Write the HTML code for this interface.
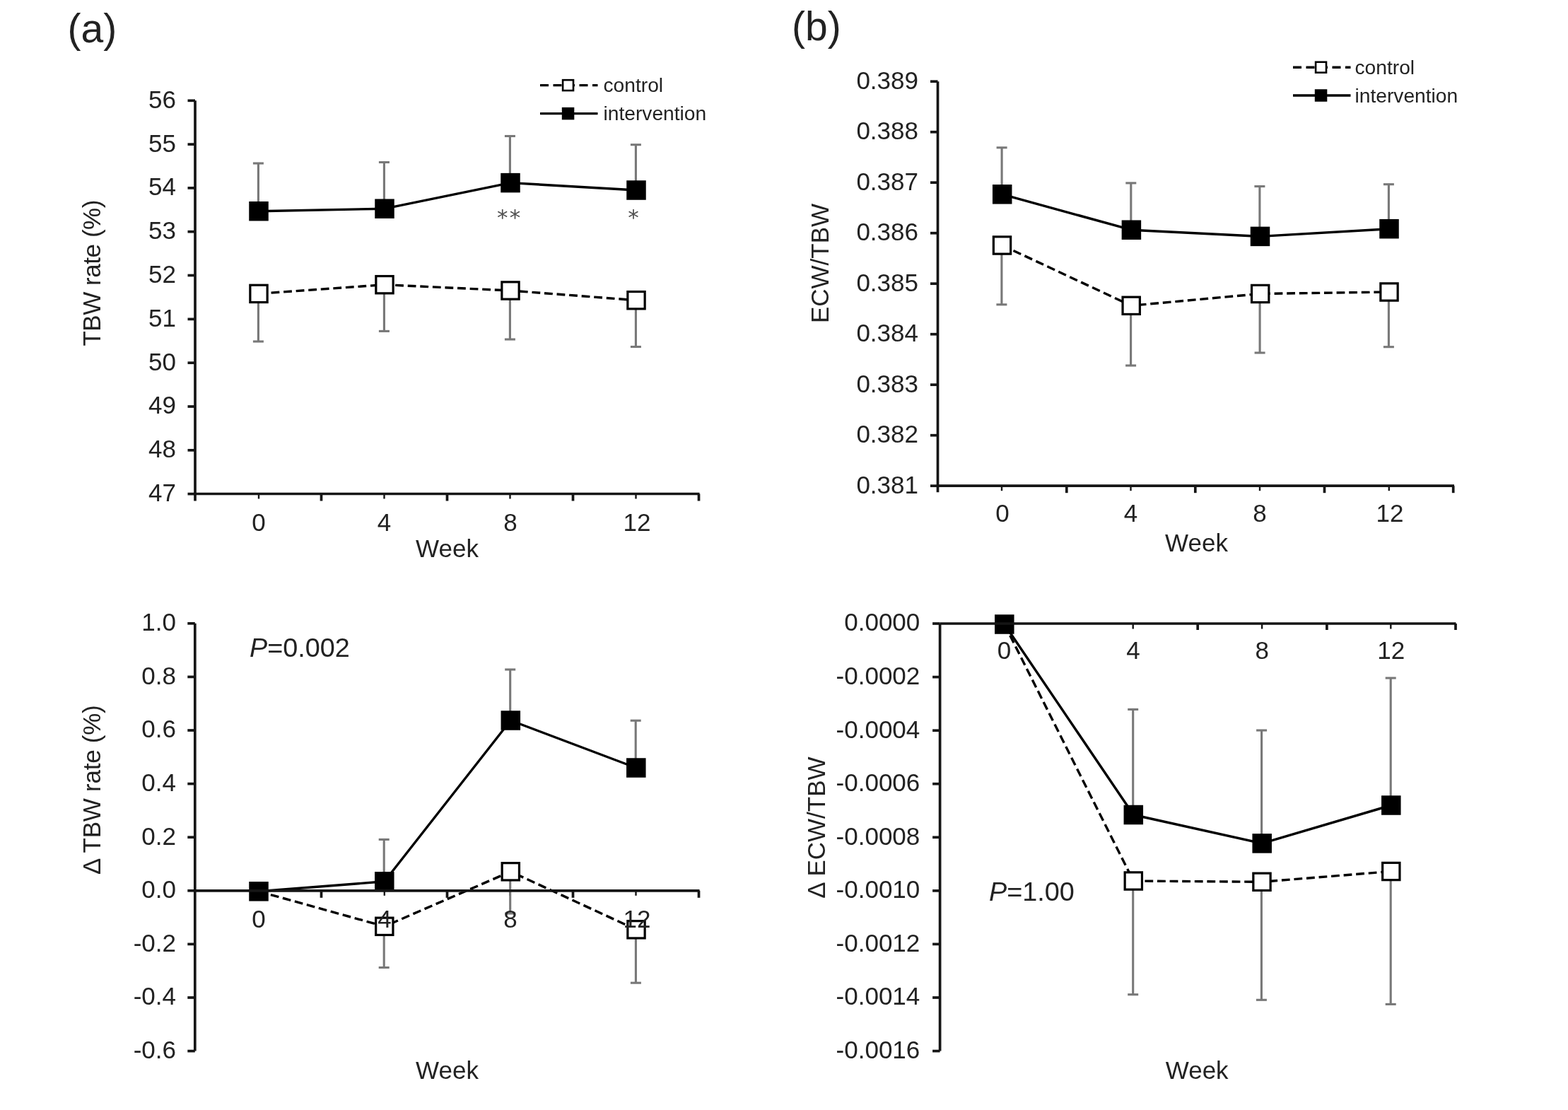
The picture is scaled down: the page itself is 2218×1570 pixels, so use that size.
<!DOCTYPE html>
<html><head><meta charset="utf-8"><title>TBW and ECW/TBW changes</title>
<style>
html,body{margin:0;padding:0;background:#fff;width:2218px;height:1570px;overflow:hidden}
svg{display:block}
text{font-family:"Liberation Sans",Arial,sans-serif}
</style></head><body>
<svg width="2218" height="1570" viewBox="0 0 2218 1570" fill="#222">
<rect width="2218" height="1570" fill="#fff"/>
<line x1="454.5" y1="698.5" x2="454.5" y2="708.5" stroke="#151515" stroke-width="3.7" />
<line x1="632.5" y1="698.5" x2="632.5" y2="708.5" stroke="#151515" stroke-width="3.7" />
<line x1="810.5" y1="698.5" x2="810.5" y2="708.5" stroke="#151515" stroke-width="3.7" />
<line x1="988.5" y1="698.5" x2="988.5" y2="708.5" stroke="#151515" stroke-width="3.7" />
<line x1="366.0" y1="698.5" x2="366.0" y2="705.5" stroke="#151515" stroke-width="2.4" />
<line x1="543.5" y1="698.5" x2="543.5" y2="705.5" stroke="#151515" stroke-width="2.4" />
<line x1="721.5" y1="698.5" x2="721.5" y2="705.5" stroke="#151515" stroke-width="2.4" />
<line x1="899.5" y1="698.5" x2="899.5" y2="705.5" stroke="#151515" stroke-width="2.4" />
<line x1="365.4" y1="298.7" x2="365.4" y2="231.0" stroke="#787878" stroke-width="3.1" />
<line x1="357.9" y1="231.0" x2="372.9" y2="231.0" stroke="#787878" stroke-width="3.1" />
<line x1="543.4" y1="295.2" x2="543.4" y2="229.5" stroke="#787878" stroke-width="3.1" />
<line x1="535.9" y1="229.5" x2="550.9" y2="229.5" stroke="#787878" stroke-width="3.1" />
<line x1="721.4" y1="258.6" x2="721.4" y2="192.5" stroke="#787878" stroke-width="3.1" />
<line x1="713.9" y1="192.5" x2="728.9" y2="192.5" stroke="#787878" stroke-width="3.1" />
<line x1="899.4" y1="269.0" x2="899.4" y2="204.7" stroke="#787878" stroke-width="3.1" />
<line x1="891.9" y1="204.7" x2="906.9" y2="204.7" stroke="#787878" stroke-width="3.1" />
<line x1="365.4" y1="415.4" x2="365.4" y2="483.0" stroke="#787878" stroke-width="3.1" />
<line x1="357.9" y1="483.0" x2="372.9" y2="483.0" stroke="#787878" stroke-width="3.1" />
<line x1="543.4" y1="402.7" x2="543.4" y2="468.4" stroke="#787878" stroke-width="3.1" />
<line x1="535.9" y1="468.4" x2="550.9" y2="468.4" stroke="#787878" stroke-width="3.1" />
<line x1="721.4" y1="411.0" x2="721.4" y2="480.0" stroke="#787878" stroke-width="3.1" />
<line x1="713.9" y1="480.0" x2="728.9" y2="480.0" stroke="#787878" stroke-width="3.1" />
<line x1="899.4" y1="424.7" x2="899.4" y2="490.5" stroke="#787878" stroke-width="3.1" />
<line x1="891.9" y1="490.5" x2="906.9" y2="490.5" stroke="#787878" stroke-width="3.1" />
<polyline points="366.0,415.4 544.0,402.7 722.0,411.0 900.0,424.7" fill="none" stroke="#000" stroke-width="3.4" stroke-linejoin="round" stroke-dasharray="11.8 5.8"/>
<polyline points="366.0,298.7 544.0,295.2 722.0,258.6 900.0,269.0" fill="none" stroke="#000" stroke-width="3.4" stroke-linejoin="round" />
<rect x="353.85" y="403.25" width="24.30" height="24.30" fill="#fff" stroke="#000" stroke-width="3.2"/>
<rect x="531.85" y="390.55" width="24.30" height="24.30" fill="#fff" stroke="#000" stroke-width="3.2"/>
<rect x="709.85" y="398.85" width="24.30" height="24.30" fill="#fff" stroke="#000" stroke-width="3.2"/>
<rect x="887.85" y="412.55" width="24.30" height="24.30" fill="#fff" stroke="#000" stroke-width="3.2"/>
<rect x="352.25" y="284.95" width="27.50" height="27.50" fill="#000"/>
<rect x="530.25" y="281.45" width="27.50" height="27.50" fill="#000"/>
<rect x="708.25" y="244.85" width="27.50" height="27.50" fill="#000"/>
<rect x="886.25" y="255.25" width="27.50" height="27.50" fill="#000"/>
<line x1="276.0" y1="142.3" x2="276.0" y2="708.5" stroke="#151515" stroke-width="3.7" />
<line x1="274.5" y1="698.5" x2="989.5" y2="698.5" stroke="#151515" stroke-width="3.7" />
<line x1="265.5" y1="142.3" x2="276.0" y2="142.3" stroke="#151515" stroke-width="3.7" />
<text x="249.0" y="152.7" font-size="35" text-anchor="end" >56</text>
<line x1="265.5" y1="204.1" x2="276.0" y2="204.1" stroke="#151515" stroke-width="3.7" />
<text x="249.0" y="214.5" font-size="35" text-anchor="end" >55</text>
<line x1="265.5" y1="265.9" x2="276.0" y2="265.9" stroke="#151515" stroke-width="3.7" />
<text x="249.0" y="276.3" font-size="35" text-anchor="end" >54</text>
<line x1="265.5" y1="327.7" x2="276.0" y2="327.7" stroke="#151515" stroke-width="3.7" />
<text x="249.0" y="338.1" font-size="35" text-anchor="end" >53</text>
<line x1="265.5" y1="389.5" x2="276.0" y2="389.5" stroke="#151515" stroke-width="3.7" />
<text x="249.0" y="399.9" font-size="35" text-anchor="end" >52</text>
<line x1="265.5" y1="451.4" x2="276.0" y2="451.4" stroke="#151515" stroke-width="3.7" />
<text x="249.0" y="461.8" font-size="35" text-anchor="end" >51</text>
<line x1="265.5" y1="513.2" x2="276.0" y2="513.2" stroke="#151515" stroke-width="3.7" />
<text x="249.0" y="523.6" font-size="35" text-anchor="end" >50</text>
<line x1="265.5" y1="575.0" x2="276.0" y2="575.0" stroke="#151515" stroke-width="3.7" />
<text x="249.0" y="585.4" font-size="35" text-anchor="end" >49</text>
<line x1="265.5" y1="636.8" x2="276.0" y2="636.8" stroke="#151515" stroke-width="3.7" />
<text x="249.0" y="647.2" font-size="35" text-anchor="end" >48</text>
<line x1="265.5" y1="698.6" x2="276.0" y2="698.6" stroke="#151515" stroke-width="3.7" />
<text x="249.0" y="709.0" font-size="35" text-anchor="end" >47</text>
<text x="366.0" y="750.5" font-size="35" text-anchor="middle" >0</text>
<text x="543.5" y="750.5" font-size="35" text-anchor="middle" >4</text>
<text x="722.0" y="750.5" font-size="35" text-anchor="middle" >8</text>
<text x="901.0" y="750.5" font-size="35" text-anchor="middle" >12</text>
<text x="632.5" y="788.3" font-size="35" text-anchor="middle" >Week</text>
<text x="0.0" y="0.0" font-size="35" text-anchor="middle" letter-spacing="-0.45" transform="translate(141.8,386.3) rotate(-90)">TBW rate (%)</text>
<text x="710.8" y="318.2" font-size="31" text-anchor="middle" fill="#505050" style="font-family:'DejaVu Sans',sans-serif">*</text>
<text x="728.6" y="318.2" font-size="31" text-anchor="middle" fill="#505050" style="font-family:'DejaVu Sans',sans-serif">*</text>
<text x="896.1" y="318.2" font-size="31" text-anchor="middle" fill="#505050" style="font-family:'DejaVu Sans',sans-serif">*</text>
<line x1="764" y1="120.6" x2="845.5" y2="120.6" stroke="#000" stroke-width="3.4" stroke-dasharray="12 6.5"/>
<rect x="796.10" y="113.15" width="14.90" height="14.90" fill="#fff" stroke="#000" stroke-width="2.6"/>
<text x="853.5" y="130.1" font-size="28.2" text-anchor="start" >control</text>
<line x1="764" y1="160.6" x2="845.5" y2="160.6" stroke="#000" stroke-width="3.4"/>
<rect x="794.80" y="151.85" width="17.50" height="17.50" fill="#000"/>
<text x="853.5" y="170.1" font-size="28.2" text-anchor="start" >intervention</text>
<line x1="454.5" y1="1259.8" x2="454.5" y2="1269.8" stroke="#151515" stroke-width="3.7" />
<line x1="632.5" y1="1259.8" x2="632.5" y2="1269.8" stroke="#151515" stroke-width="3.7" />
<line x1="810.5" y1="1259.8" x2="810.5" y2="1269.8" stroke="#151515" stroke-width="3.7" />
<line x1="988.5" y1="1259.8" x2="988.5" y2="1269.8" stroke="#151515" stroke-width="3.7" />
<line x1="543.8" y1="1259.8" x2="543.8" y2="1266.8" stroke="#151515" stroke-width="2.4" />
<line x1="721.5" y1="1259.8" x2="721.5" y2="1266.8" stroke="#151515" stroke-width="2.4" />
<line x1="899.5" y1="1259.8" x2="899.5" y2="1266.8" stroke="#151515" stroke-width="2.4" />
<line x1="543.2" y1="1246.8" x2="543.2" y2="1187.4" stroke="#787878" stroke-width="3.1" />
<line x1="535.7" y1="1187.4" x2="550.7" y2="1187.4" stroke="#787878" stroke-width="3.1" />
<line x1="721.7" y1="1019.0" x2="721.7" y2="947.0" stroke="#787878" stroke-width="3.1" />
<line x1="714.2" y1="947.0" x2="729.2" y2="947.0" stroke="#787878" stroke-width="3.1" />
<line x1="899.2" y1="1086.0" x2="899.2" y2="1019.2" stroke="#787878" stroke-width="3.1" />
<line x1="891.7" y1="1019.2" x2="906.7" y2="1019.2" stroke="#787878" stroke-width="3.1" />
<line x1="543.2" y1="1310.3" x2="543.2" y2="1368.5" stroke="#787878" stroke-width="3.1" />
<line x1="535.7" y1="1368.5" x2="550.7" y2="1368.5" stroke="#787878" stroke-width="3.1" />
<line x1="721.7" y1="1232.8" x2="721.7" y2="1292.0" stroke="#787878" stroke-width="3.1" />
<line x1="714.2" y1="1292.0" x2="729.2" y2="1292.0" stroke="#787878" stroke-width="3.1" />
<line x1="899.4" y1="1314.8" x2="899.4" y2="1390.2" stroke="#787878" stroke-width="3.1" />
<line x1="891.9" y1="1390.2" x2="906.9" y2="1390.2" stroke="#787878" stroke-width="3.1" />
<polyline points="366.0,1260.8 543.8,1310.3 722.3,1232.8 900.0,1314.8" fill="none" stroke="#000" stroke-width="3.4" stroke-linejoin="round" stroke-dasharray="11.8 5.8"/>
<polyline points="366.0,1260.8 543.8,1246.8 722.3,1019.0 899.8,1086.0" fill="none" stroke="#000" stroke-width="3.4" stroke-linejoin="round" />
<rect x="531.65" y="1298.15" width="24.30" height="24.30" fill="#fff" stroke="#000" stroke-width="3.2"/>
<rect x="710.15" y="1220.65" width="24.30" height="24.30" fill="#fff" stroke="#000" stroke-width="3.2"/>
<rect x="887.85" y="1302.65" width="24.30" height="24.30" fill="#fff" stroke="#000" stroke-width="3.2"/>
<rect x="352.25" y="1247.05" width="27.50" height="27.50" fill="#000"/>
<rect x="530.05" y="1233.05" width="27.50" height="27.50" fill="#000"/>
<rect x="708.55" y="1005.25" width="27.50" height="27.50" fill="#000"/>
<rect x="886.05" y="1072.25" width="27.50" height="27.50" fill="#000"/>
<line x1="275.8" y1="881.8" x2="275.8" y2="1486.6" stroke="#151515" stroke-width="3.7" />
<line x1="275.8" y1="1259.8" x2="989.5" y2="1259.8" stroke="#151515" stroke-width="3.7" />
<line x1="265.3" y1="881.8" x2="275.8" y2="881.8" stroke="#151515" stroke-width="3.7" />
<text x="249.0" y="892.2" font-size="35" text-anchor="end" >1.0</text>
<line x1="265.3" y1="957.4" x2="275.8" y2="957.4" stroke="#151515" stroke-width="3.7" />
<text x="249.0" y="967.8" font-size="35" text-anchor="end" >0.8</text>
<line x1="265.3" y1="1033.0" x2="275.8" y2="1033.0" stroke="#151515" stroke-width="3.7" />
<text x="249.0" y="1043.4" font-size="35" text-anchor="end" >0.6</text>
<line x1="265.3" y1="1108.6" x2="275.8" y2="1108.6" stroke="#151515" stroke-width="3.7" />
<text x="249.0" y="1119.0" font-size="35" text-anchor="end" >0.4</text>
<line x1="265.3" y1="1184.2" x2="275.8" y2="1184.2" stroke="#151515" stroke-width="3.7" />
<text x="249.0" y="1194.6" font-size="35" text-anchor="end" >0.2</text>
<line x1="265.3" y1="1259.8" x2="275.8" y2="1259.8" stroke="#151515" stroke-width="3.7" />
<text x="249.0" y="1270.2" font-size="35" text-anchor="end" >0.0</text>
<line x1="265.3" y1="1335.4" x2="275.8" y2="1335.4" stroke="#151515" stroke-width="3.7" />
<text x="249.0" y="1345.8" font-size="35" text-anchor="end" >-0.2</text>
<line x1="265.3" y1="1411.0" x2="275.8" y2="1411.0" stroke="#151515" stroke-width="3.7" />
<text x="249.0" y="1421.4" font-size="35" text-anchor="end" >-0.4</text>
<line x1="265.3" y1="1486.6" x2="275.8" y2="1486.6" stroke="#151515" stroke-width="3.7" />
<text x="249.0" y="1497.0" font-size="35" text-anchor="end" >-0.6</text>
<text x="366.0" y="1311.5" font-size="35" text-anchor="middle" >0</text>
<text x="544.0" y="1311.5" font-size="35" text-anchor="middle" >4</text>
<text x="722.0" y="1311.5" font-size="35" text-anchor="middle" >8</text>
<text x="901.0" y="1311.5" font-size="35" text-anchor="middle" >12</text>
<text x="632.5" y="1526.3" font-size="35" text-anchor="middle" >Week</text>
<text x="0.0" y="0.0" font-size="35" text-anchor="middle" letter-spacing="-0.25" transform="translate(142,1117.3) rotate(-90)">Δ TBW rate (%)</text>
<text x="353.0" y="928.5" font-size="37.8" text-anchor="start" ><tspan font-style="italic">P</tspan>=0.002</text>
<line x1="1508.8" y1="687.2" x2="1508.8" y2="697.2" stroke="#151515" stroke-width="3.7" />
<line x1="1690.8" y1="687.2" x2="1690.8" y2="697.2" stroke="#151515" stroke-width="3.7" />
<line x1="1873.5" y1="687.2" x2="1873.5" y2="697.2" stroke="#151515" stroke-width="3.7" />
<line x1="2055.7" y1="687.2" x2="2055.7" y2="697.2" stroke="#151515" stroke-width="3.7" />
<line x1="1417.0" y1="687.2" x2="1417.0" y2="694.2" stroke="#151515" stroke-width="2.4" />
<line x1="1599.5" y1="687.2" x2="1599.5" y2="694.2" stroke="#151515" stroke-width="2.4" />
<line x1="1782.0" y1="687.2" x2="1782.0" y2="694.2" stroke="#151515" stroke-width="2.4" />
<line x1="1964.8" y1="687.2" x2="1964.8" y2="694.2" stroke="#151515" stroke-width="2.4" />
<line x1="1417.1" y1="274.8" x2="1417.1" y2="208.8" stroke="#787878" stroke-width="3.1" />
<line x1="1409.6" y1="208.8" x2="1424.6" y2="208.8" stroke="#787878" stroke-width="3.1" />
<line x1="1599.8" y1="325.2" x2="1599.8" y2="258.9" stroke="#787878" stroke-width="3.1" />
<line x1="1592.3" y1="258.9" x2="1607.3" y2="258.9" stroke="#787878" stroke-width="3.1" />
<line x1="1781.9" y1="334.4" x2="1781.9" y2="263.6" stroke="#787878" stroke-width="3.1" />
<line x1="1774.4" y1="263.6" x2="1789.4" y2="263.6" stroke="#787878" stroke-width="3.1" />
<line x1="1964.4" y1="323.7" x2="1964.4" y2="260.7" stroke="#787878" stroke-width="3.1" />
<line x1="1956.9" y1="260.7" x2="1971.9" y2="260.7" stroke="#787878" stroke-width="3.1" />
<line x1="1416.9" y1="347.0" x2="1416.9" y2="430.8" stroke="#787878" stroke-width="3.1" />
<line x1="1409.4" y1="430.8" x2="1424.4" y2="430.8" stroke="#787878" stroke-width="3.1" />
<line x1="1599.6" y1="432.3" x2="1599.6" y2="517.0" stroke="#787878" stroke-width="3.1" />
<line x1="1592.1" y1="517.0" x2="1607.1" y2="517.0" stroke="#787878" stroke-width="3.1" />
<line x1="1782.1" y1="415.5" x2="1782.1" y2="499.0" stroke="#787878" stroke-width="3.1" />
<line x1="1774.6" y1="499.0" x2="1789.6" y2="499.0" stroke="#787878" stroke-width="3.1" />
<line x1="1964.4" y1="413.0" x2="1964.4" y2="490.7" stroke="#787878" stroke-width="3.1" />
<line x1="1956.9" y1="490.7" x2="1971.9" y2="490.7" stroke="#787878" stroke-width="3.1" />
<polyline points="1417.5,347.0 1600.2,432.3 1782.7,415.5 1965.0,413.0" fill="none" stroke="#000" stroke-width="3.4" stroke-linejoin="round" stroke-dasharray="11.8 5.8"/>
<polyline points="1417.7,274.8 1600.4,325.2 1782.5,334.4 1965.0,323.7" fill="none" stroke="#000" stroke-width="3.4" stroke-linejoin="round" />
<rect x="1405.35" y="334.85" width="24.30" height="24.30" fill="#fff" stroke="#000" stroke-width="3.2"/>
<rect x="1588.05" y="420.15" width="24.30" height="24.30" fill="#fff" stroke="#000" stroke-width="3.2"/>
<rect x="1770.55" y="403.35" width="24.30" height="24.30" fill="#fff" stroke="#000" stroke-width="3.2"/>
<rect x="1952.85" y="400.85" width="24.30" height="24.30" fill="#fff" stroke="#000" stroke-width="3.2"/>
<rect x="1403.95" y="261.05" width="27.50" height="27.50" fill="#000"/>
<rect x="1586.65" y="311.45" width="27.50" height="27.50" fill="#000"/>
<rect x="1768.75" y="320.65" width="27.50" height="27.50" fill="#000"/>
<rect x="1951.25" y="309.95" width="27.50" height="27.50" fill="#000"/>
<line x1="1326.5" y1="115.2" x2="1326.5" y2="696.2" stroke="#151515" stroke-width="3.7" />
<line x1="1325.0" y1="687.2" x2="2057.0" y2="687.2" stroke="#151515" stroke-width="3.7" />
<line x1="1316.0" y1="115.2" x2="1326.5" y2="115.2" stroke="#151515" stroke-width="3.7" />
<text x="1299.0" y="125.6" font-size="35" text-anchor="end" >0.389</text>
<line x1="1316.0" y1="186.7" x2="1326.5" y2="186.7" stroke="#151515" stroke-width="3.7" />
<text x="1299.0" y="197.1" font-size="35" text-anchor="end" >0.388</text>
<line x1="1316.0" y1="258.2" x2="1326.5" y2="258.2" stroke="#151515" stroke-width="3.7" />
<text x="1299.0" y="268.6" font-size="35" text-anchor="end" >0.387</text>
<line x1="1316.0" y1="329.7" x2="1326.5" y2="329.7" stroke="#151515" stroke-width="3.7" />
<text x="1299.0" y="340.1" font-size="35" text-anchor="end" >0.386</text>
<line x1="1316.0" y1="401.2" x2="1326.5" y2="401.2" stroke="#151515" stroke-width="3.7" />
<text x="1299.0" y="411.6" font-size="35" text-anchor="end" >0.385</text>
<line x1="1316.0" y1="472.7" x2="1326.5" y2="472.7" stroke="#151515" stroke-width="3.7" />
<text x="1299.0" y="483.1" font-size="35" text-anchor="end" >0.384</text>
<line x1="1316.0" y1="544.2" x2="1326.5" y2="544.2" stroke="#151515" stroke-width="3.7" />
<text x="1299.0" y="554.6" font-size="35" text-anchor="end" >0.383</text>
<line x1="1316.0" y1="615.7" x2="1326.5" y2="615.7" stroke="#151515" stroke-width="3.7" />
<text x="1299.0" y="626.1" font-size="35" text-anchor="end" >0.382</text>
<line x1="1316.0" y1="687.2" x2="1326.5" y2="687.2" stroke="#151515" stroke-width="3.7" />
<text x="1299.0" y="697.6" font-size="35" text-anchor="end" >0.381</text>
<text x="1418.0" y="737.8" font-size="35" text-anchor="middle" >0</text>
<text x="1599.5" y="737.8" font-size="35" text-anchor="middle" >4</text>
<text x="1782.0" y="737.8" font-size="35" text-anchor="middle" >8</text>
<text x="1966.0" y="737.8" font-size="35" text-anchor="middle" >12</text>
<text x="1692.5" y="779.5" font-size="35" text-anchor="middle" >Week</text>
<text x="0.0" y="0.0" font-size="35" text-anchor="middle" transform="translate(1172,372.5) rotate(-90)">ECW/TBW</text>
<line x1="1829" y1="95.2" x2="1910.5" y2="95.2" stroke="#000" stroke-width="3.4" stroke-dasharray="12 6.5"/>
<rect x="1861.10" y="87.75" width="14.90" height="14.90" fill="#fff" stroke="#000" stroke-width="2.6"/>
<text x="1916.5" y="104.7" font-size="28.2" text-anchor="start" >control</text>
<line x1="1829" y1="135.0" x2="1910.5" y2="135.0" stroke="#000" stroke-width="3.4"/>
<rect x="1859.80" y="126.25" width="17.50" height="17.50" fill="#000"/>
<text x="1916.5" y="144.5" font-size="28.2" text-anchor="start" >intervention</text>
<line x1="1694.2" y1="882.0" x2="1694.2" y2="891.0" stroke="#151515" stroke-width="3.7" />
<line x1="1876.9" y1="882.0" x2="1876.9" y2="891.0" stroke="#151515" stroke-width="3.7" />
<line x1="2059.0" y1="882.0" x2="2059.0" y2="891.0" stroke="#151515" stroke-width="3.7" />
<line x1="1602.7" y1="882.0" x2="1602.7" y2="889.5" stroke="#151515" stroke-width="2.4" />
<line x1="1785.1" y1="882.0" x2="1785.1" y2="889.5" stroke="#151515" stroke-width="2.4" />
<line x1="1967.3" y1="882.0" x2="1967.3" y2="889.5" stroke="#151515" stroke-width="2.4" />
<line x1="1602.7" y1="1152.5" x2="1602.7" y2="1003.4" stroke="#787878" stroke-width="3.1" />
<line x1="1595.2" y1="1003.4" x2="1610.2" y2="1003.4" stroke="#787878" stroke-width="3.1" />
<line x1="1784.6" y1="1192.9" x2="1784.6" y2="1033.0" stroke="#787878" stroke-width="3.1" />
<line x1="1777.1" y1="1033.0" x2="1792.1" y2="1033.0" stroke="#787878" stroke-width="3.1" />
<line x1="1967.2" y1="1139.0" x2="1967.2" y2="959.0" stroke="#787878" stroke-width="3.1" />
<line x1="1959.7" y1="959.0" x2="1974.7" y2="959.0" stroke="#787878" stroke-width="3.1" />
<line x1="1602.7" y1="1246.0" x2="1602.7" y2="1406.7" stroke="#787878" stroke-width="3.1" />
<line x1="1595.2" y1="1406.7" x2="1610.2" y2="1406.7" stroke="#787878" stroke-width="3.1" />
<line x1="1784.4" y1="1247.3" x2="1784.4" y2="1414.3" stroke="#787878" stroke-width="3.1" />
<line x1="1776.9" y1="1414.3" x2="1791.9" y2="1414.3" stroke="#787878" stroke-width="3.1" />
<line x1="1967.2" y1="1232.5" x2="1967.2" y2="1420.4" stroke="#787878" stroke-width="3.1" />
<line x1="1959.7" y1="1420.4" x2="1974.7" y2="1420.4" stroke="#787878" stroke-width="3.1" />
<polyline points="1420.8,883.0 1603.3,1246.0 1785.0,1247.3 1967.8,1232.5" fill="none" stroke="#000" stroke-width="3.4" stroke-linejoin="round" stroke-dasharray="11.8 5.8"/>
<polyline points="1420.8,883.0 1603.3,1152.5 1785.2,1192.9 1967.8,1139.0" fill="none" stroke="#000" stroke-width="3.4" stroke-linejoin="round" />
<rect x="1591.15" y="1233.85" width="24.30" height="24.30" fill="#fff" stroke="#000" stroke-width="3.2"/>
<rect x="1772.85" y="1235.15" width="24.30" height="24.30" fill="#fff" stroke="#000" stroke-width="3.2"/>
<rect x="1955.65" y="1220.35" width="24.30" height="24.30" fill="#fff" stroke="#000" stroke-width="3.2"/>
<rect x="1407.05" y="869.25" width="27.50" height="27.50" fill="#000"/>
<rect x="1589.55" y="1138.75" width="27.50" height="27.50" fill="#000"/>
<rect x="1771.45" y="1179.15" width="27.50" height="27.50" fill="#000"/>
<rect x="1954.05" y="1125.25" width="27.50" height="27.50" fill="#000"/>
<line x1="1329.6" y1="882.0" x2="1329.6" y2="1486.6" stroke="#151515" stroke-width="3.7" />
<line x1="1329.6" y1="882.0" x2="2059.5" y2="882.0" stroke="#151515" stroke-width="3.7" />
<line x1="1319.1" y1="882.0" x2="1329.6" y2="882.0" stroke="#151515" stroke-width="3.7" />
<text x="1301.3" y="892.4" font-size="35" text-anchor="end" >0.0000</text>
<line x1="1319.1" y1="957.6" x2="1329.6" y2="957.6" stroke="#151515" stroke-width="3.7" />
<text x="1301.3" y="968.0" font-size="35" text-anchor="end" >-0.0002</text>
<line x1="1319.1" y1="1033.2" x2="1329.6" y2="1033.2" stroke="#151515" stroke-width="3.7" />
<text x="1301.3" y="1043.6" font-size="35" text-anchor="end" >-0.0004</text>
<line x1="1319.1" y1="1108.7" x2="1329.6" y2="1108.7" stroke="#151515" stroke-width="3.7" />
<text x="1301.3" y="1119.1" font-size="35" text-anchor="end" >-0.0006</text>
<line x1="1319.1" y1="1184.3" x2="1329.6" y2="1184.3" stroke="#151515" stroke-width="3.7" />
<text x="1301.3" y="1194.7" font-size="35" text-anchor="end" >-0.0008</text>
<line x1="1319.1" y1="1259.9" x2="1329.6" y2="1259.9" stroke="#151515" stroke-width="3.7" />
<text x="1301.3" y="1270.3" font-size="35" text-anchor="end" >-0.0010</text>
<line x1="1319.1" y1="1335.4" x2="1329.6" y2="1335.4" stroke="#151515" stroke-width="3.7" />
<text x="1301.3" y="1345.8" font-size="35" text-anchor="end" >-0.0012</text>
<line x1="1319.1" y1="1411.0" x2="1329.6" y2="1411.0" stroke="#151515" stroke-width="3.7" />
<text x="1301.3" y="1421.4" font-size="35" text-anchor="end" >-0.0014</text>
<line x1="1319.1" y1="1486.6" x2="1329.6" y2="1486.6" stroke="#151515" stroke-width="3.7" />
<text x="1301.3" y="1497.0" font-size="35" text-anchor="end" >-0.0016</text>
<text x="1420.5" y="932.0" font-size="35" text-anchor="middle" >0</text>
<text x="1603.0" y="932.0" font-size="35" text-anchor="middle" >4</text>
<text x="1785.3" y="932.0" font-size="35" text-anchor="middle" >8</text>
<text x="1967.7" y="932.0" font-size="35" text-anchor="middle" >12</text>
<text x="1693.2" y="1526.3" font-size="35" text-anchor="middle" >Week</text>
<text x="0.0" y="0.0" font-size="35" text-anchor="middle" transform="translate(1166.5,1170.6) rotate(-90)">Δ ECW/TBW</text>
<text x="1399.0" y="1273.5" font-size="37.8" text-anchor="start" ><tspan font-style="italic">P</tspan>=1.00</text>
<text x="130.3" y="60.0" font-size="57" text-anchor="middle" >(a)</text>
<text x="1154.8" y="57.1" font-size="57" text-anchor="middle" >(b)</text>
</svg>
</body></html>
